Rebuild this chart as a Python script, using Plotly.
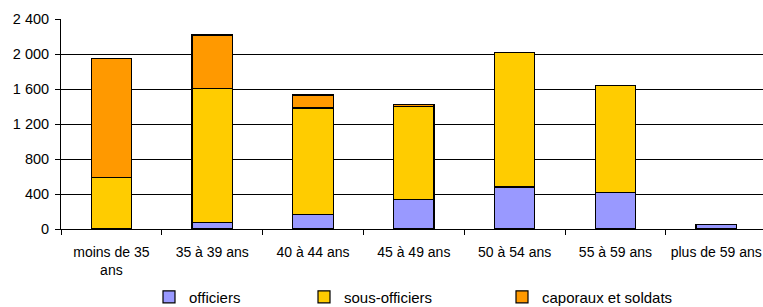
import plotly.graph_objects as go

categories = ["moins de 35<br>ans", "35 à 39 ans", "40 à 44 ans", "45 à 49 ans",
              "50 à 54 ans", "55 à 59 ans", "plus de 59 ans"]
officiers = [8, 70, 163, 335, 480, 415, 47]
sous_officiers = [577, 1537, 1220, 1066, 1538, 1226, 0]
caporaux = [1361, 610, 148, 20, 0, 0, 0]
series_names = ["officiers", "sous-officiers", "caporaux et soldats"]
y_tick_vals = [0, 400, 800, 1200, 1600, 2000, 2400]
y_tick_text = ["0", "400", "800", "1 200", "1 600", "2 000", "2 400"]

colors = ["#9999FF", "#FFCC00", "#FF9900"]
legends = ["legend", "legend2", "legend3"]

fig = go.Figure()
for name, vals, col, lg in zip(series_names, [officiers, sous_officiers, caporaux], colors, legends):
    fig.add_trace(go.Bar(
        x=categories, y=vals, name=name, width=0.4,
        marker=dict(color=col, line=dict(color="#000000", width=1.2)),
        legend=lg,
    ))

L, W = 61, 702
def px2paper(px):
    return (px - L) / W

font = dict(family="Liberation Sans, Arial, sans-serif", color="#000000")
legend_common = dict(orientation="h", yanchor="middle", xanchor="left", y=-0.324,
                     font=dict(size=15, **font), bgcolor="rgba(0,0,0,0)",
                     borderwidth=0, itemwidth=30, tracegroupgap=0)
fig.update_layout(
    width=763, height=307,
    margin=dict(l=L, r=0, t=19, b=78, pad=0, autoexpand=False),
    paper_bgcolor="white", plot_bgcolor="white",
    barmode="stack",
    font=dict(size=14, **font),
    showlegend=True,
    legend=dict(x=px2paper(149), **legend_common),
    legend2=dict(x=px2paper(304), **legend_common),
    legend3=dict(x=px2paper(502), **legend_common),
    xaxis=dict(
        range=[-0.5, 6.464], showline=True, linecolor="#000000", linewidth=1,
        ticks="outside", tickson="boundaries", ticklen=5, tickcolor="#000000",
        showgrid=False, tickfont=dict(size=14, **font), tickangle=0,
        ticklabelstandoff=10, automargin=False,
    ),
    yaxis=dict(
        range=[0, 2400], tickvals=y_tick_vals, ticktext=y_tick_text,
        showline=True, linecolor="#000000", linewidth=1,
        ticks="outside", ticklen=5, tickcolor="#000000",
        showgrid=True, gridcolor="#000000", gridwidth=1,
        zeroline=False, tickfont=dict(size=14.5, **font),
        ticklabelstandoff=3, automargin=False,
    ),
)
fig.write_html(
    "out.html",
    config={"displayModeBar": False},
    post_script="document.body.style.margin='0';document.body.style.overflow='hidden';",
)
